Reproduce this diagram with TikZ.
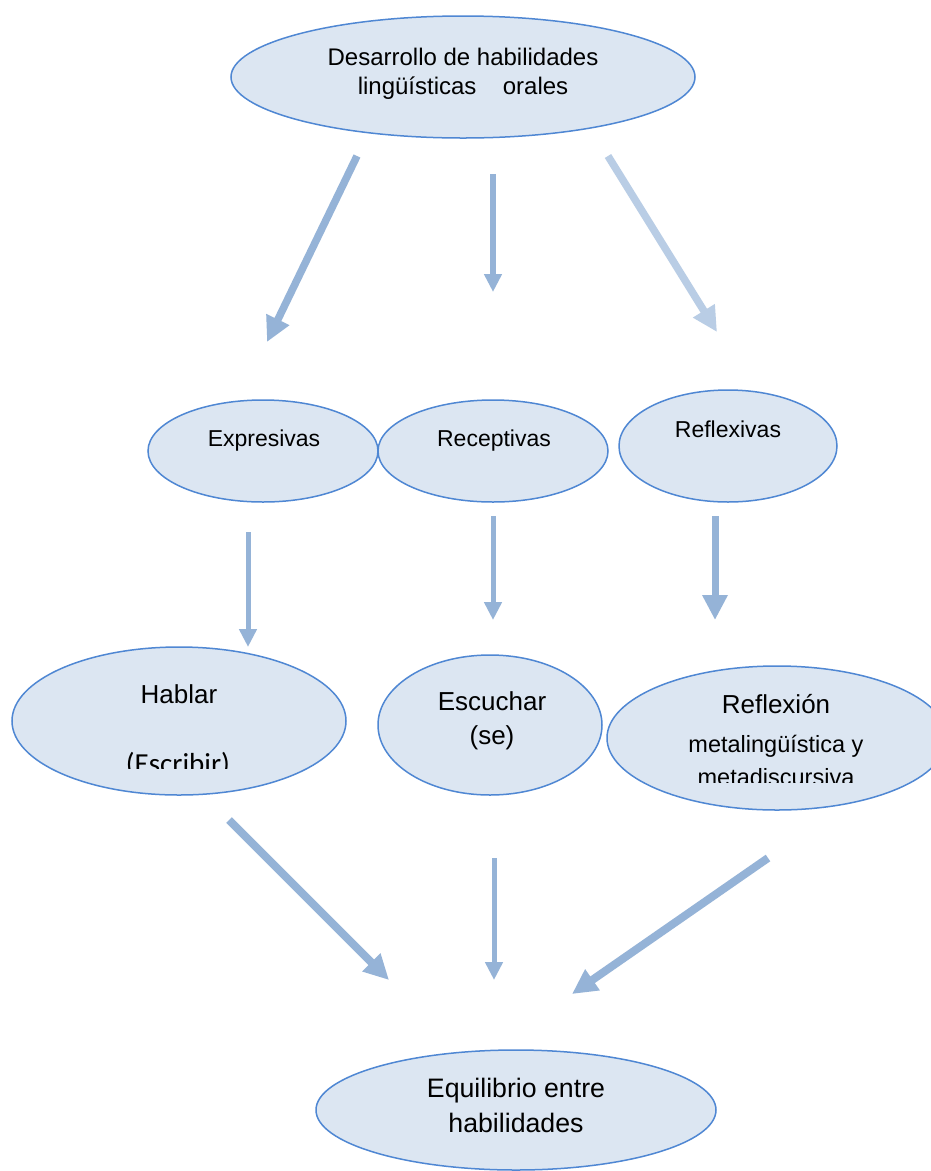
\documentclass[tikz,border=0pt]{standalone}
\usepackage{fontspec}
\setmainfont{Liberation Sans}
\newfontfamily\calibrifont{Carlito}
\usetikzlibrary{shapes.geometric,arrows.meta}
\newcommand\myfs[1]{\fontsize{#1}{#1}\selectfont}
\definecolor{ellfill}{HTML}{DCE6F2}
\definecolor{elldraw}{HTML}{4F87D3}
\definecolor{arrowblue}{HTML}{95B3D7}
\definecolor{arrowlight}{HTML}{B9CDE5}
\tikzset{
  oval/.style={ellipse, draw=elldraw, fill=ellfill, line width=1.5pt, inner sep=0pt},
  txt/.style={anchor=base, inner sep=0pt, text=black},
  thickarrow/.style={draw=arrowblue, line width=7.5pt, -{Triangle[length=25pt,width=24pt]}},
  thinarrow/.style={draw=arrowblue, line width=5pt, -{Triangle[length=18pt,width=17pt]}},
}
\begin{document}
\begin{tikzpicture}[x=1pt,y=-1pt]
\useasboundingbox (0,0) rectangle (931,1171);
\fill[white] (0,0) rectangle (931,1171);

% ellipses
\node[oval, minimum width=464pt, minimum height=122pt] (top) at (463,77) {};
\node[oval, minimum width=230pt, minimum height=102pt] (expr) at (263,451) {};
\node[oval, minimum width=230pt, minimum height=102pt] (recep) at (493,451) {};
\node[oval, minimum width=218pt, minimum height=112pt] (refl) at (728,446) {};
\node[oval, minimum width=334pt, minimum height=148pt] (hablar) at (179,721) {};
\node[oval, minimum width=224pt, minimum height=140pt] (escuchar) at (490,725) {};
\node[oval, minimum width=340pt, minimum height=144pt] (reflexion) at (777,738) {};
\node[oval, minimum width=400pt, minimum height=120pt] (equil) at (516,1110) {};

% texts
\node[txt] (t1a) at (463,65) {\myfs{24}Desarrollo de habilidades};
\node[txt] (t1b) at (463,94) {\myfs{24}lingüísticas\hspace{1.1em}orales};
\node[txt] (t2) at (264,446) {\myfs{23}Expresivas};
\node[txt] (t3) at (494,446) {\myfs{23}Receptivas};
\node[txt] (t4) at (728,437) {\myfs{23}Reflexivas};
\node[txt] (t5) at (179,703) {\myfs{26}Hablar};
\begin{scope}
\clip (100,740) rectangle (260,768);
\node[txt] (t6) at (178,773) {\calibrifont\myfs{29}(Escribir)};
\end{scope}
\node[txt] (t7) at (492,710) {\myfs{26}Escuchar};
\node[txt] (t8) at (492,744) {\myfs{26}(se)};
\node[txt] (t9) at (776,713) {\myfs{26}Reflexión};
\node[txt] (t10) at (776,752) {\myfs{23.5}metalingüística y};
\begin{scope}
\clip (650,755) rectangle (900,782);
\node[txt] (t11) at (776,785) {\myfs{23.5}metadiscursiva};
\end{scope}
\node[txt] (t12) at (516,1097) {\myfs{26.7}Equilibrio entre};
\node[txt] (t13) at (516,1132) {\myfs{26.7}habilidades};

% arrow end points
\coordinate (a1s) at (357,156); \coordinate (a1e) at (267,342);
\coordinate (a2s) at (493,174); \coordinate (a2e) at (493,292);
\coordinate (a3s) at (608,156); \coordinate (a3e) at (717,332);
\coordinate (a4s) at (248,532); \coordinate (a4e) at (248,647);
\coordinate (a5s) at (493,516); \coordinate (a5e) at (493,620);
\coordinate (a6s) at (715,516); \coordinate (a6e) at (715,620);
\coordinate (a7s) at (229,820); \coordinate (a7e) at (389,980);
\coordinate (a8s) at (494,858); \coordinate (a8e) at (494,980);
\coordinate (a9s) at (768,858); \coordinate (a9e) at (572,994);

\draw[thickarrow] (a1s) -- (a1e);
\draw[thinarrow, line width=6pt] (a2s) -- (a2e);
\draw[thickarrow, draw=arrowlight] (a3s) -- (a3e);
\draw[thinarrow] (a4s) -- (a4e);
\draw[thinarrow] (a5s) -- (a5e);
\draw[thickarrow, line width=7pt] (a6s) -- (a6e);
\draw[thickarrow, line width=8pt] (a7s) -- (a7e);
\draw[thinarrow] (a8s) -- (a8e);
\draw[thickarrow, line width=8pt] (a9s) -- (a9e);
\end{tikzpicture}
\end{document}
